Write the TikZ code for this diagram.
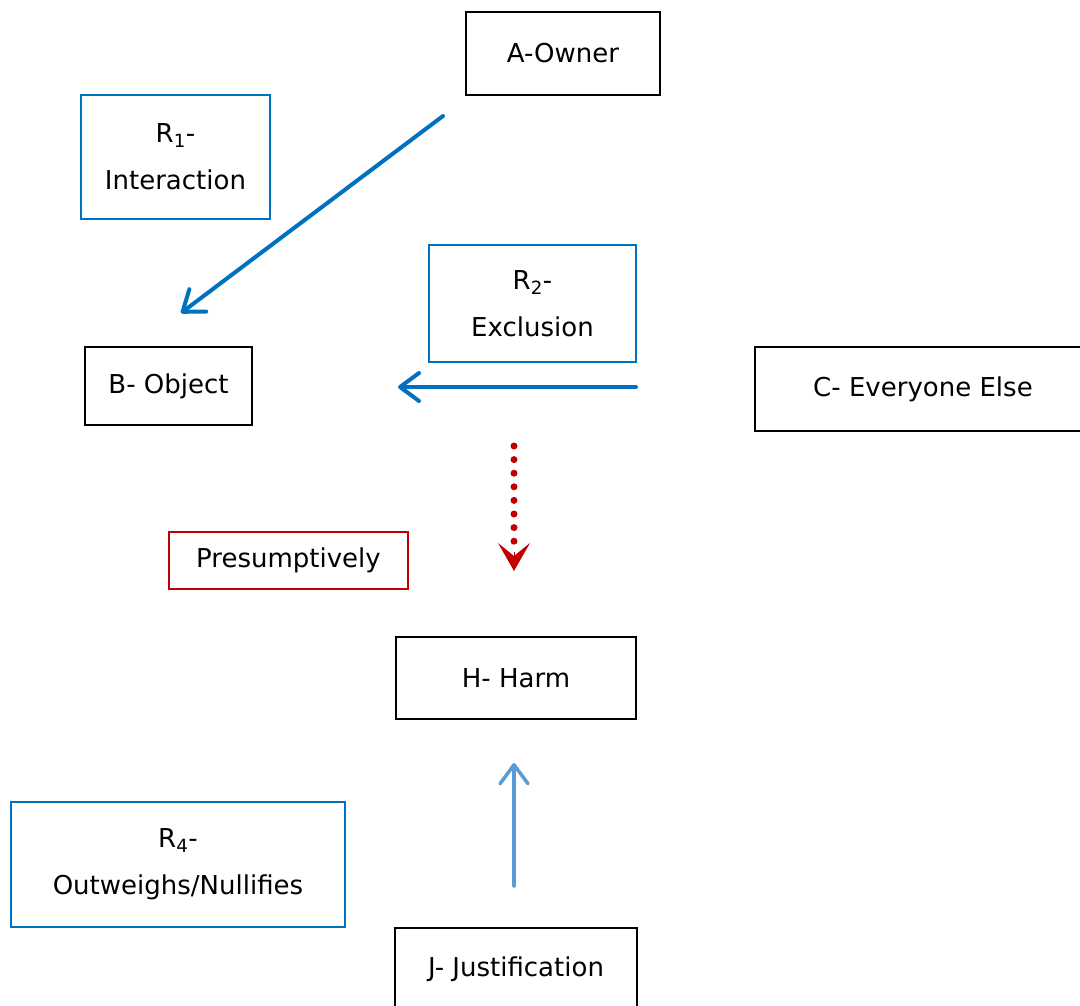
\documentclass[tikz,border=0pt]{standalone}
\usepackage{fontspec}
\setmainfont{DejaVu Sans}
\usetikzlibrary{arrows.meta}
\definecolor{ownblue}{HTML}{0070C0}
\definecolor{lightblue}{HTML}{5B9BD5}
\definecolor{darkred}{HTML}{C00000}

\begin{document}
\begin{tikzpicture}[x=1pt,y=-1pt,
	box/.style={draw=black, line width=2pt, align=center, inner sep=0pt, font=\fontsize{26}{47}\selectfont},
	bluebox/.style={box, draw=ownblue},
	redbox/.style={box, draw=darkred},
	bluearrow/.style={ownblue, line width=4pt, line cap=round, -{Straight Barb[length=19pt,width=28pt,round]}}]
	\useasboundingbox (0,0) rectangle (1080,1006);
	\draw (563,53.5) node[box, minimum width=194, minimum height=83](a){A-Owner};
	\draw (175.5,157) node[bluebox, minimum width=189, minimum height=124](r1){R\textsubscript{1}-\\Interaction};
	\draw (168.5,386) node[box, minimum width=167, minimum height=78](b){B- Object};
	\draw (532.5,303.5) node[bluebox, minimum width=207, minimum height=117](r2){R\textsubscript{2}-\\Exclusion};
	\draw (923,389) node[box, minimum width=336, minimum height=84](c){C- Everyone Else};
	\draw (288.5,560.5) node[redbox, minimum width=239, minimum height=57](p){Presumptively};
	\draw (516,678) node[box, minimum width=240, minimum height=82](h){H- Harm};
	\draw (178,864.5) node[bluebox, minimum width=334, minimum height=125](r4){R\textsubscript{4}-\\Outweighs/Nullifies};
	\draw (516,969) node[box, minimum width=242, minimum height=82](j){J- Justification};
	
	\coordinate (a1) at (443,116);
	\coordinate (b1) at (181,313);
	\coordinate (c1) at (636,387);
	\coordinate (b2) at (398,387);
	\coordinate (d1) at (514,446);
	\coordinate (d2) at (514,544);
	\coordinate (d3) at (514,552);
	\coordinate (h1) at (514,571);
	\coordinate (j1) at (514,886);
	\coordinate (h2) at (514,763);
	
	\draw [bluearrow](a1) -- (b1);
	\draw [bluearrow](c1) -- (b2);
	\draw [darkred, line width=7pt, line cap=round, dash pattern=on 0pt off 13.6pt](d1) -- (d2);
	\draw [darkred, line width=1pt, -{Stealth[length=28pt,width=32pt,inset=13pt]}](d3) -- (h1);
	\draw [bluearrow, lightblue, line width=3.5pt](j1) -- (h2);
\end{tikzpicture}
\end{document}
